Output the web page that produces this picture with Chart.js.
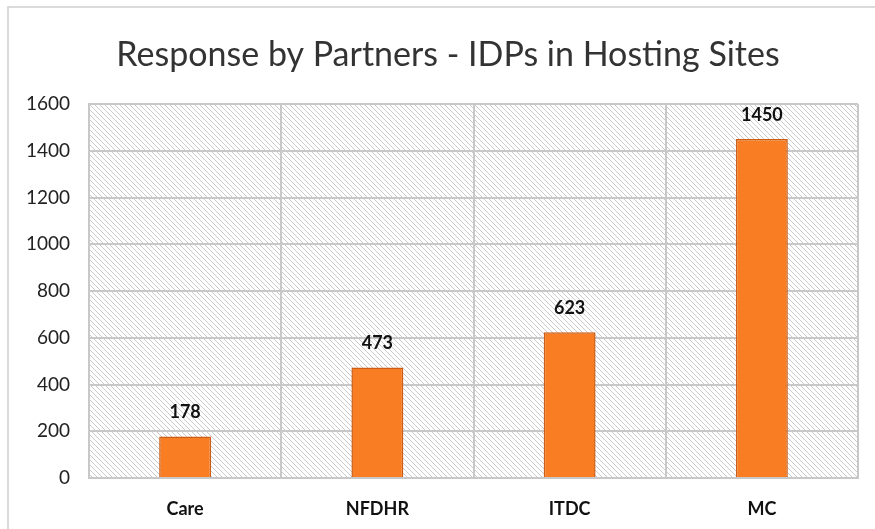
<!DOCTYPE html>
<html>
<head>
<meta charset="utf-8">
<script src="https://cdn.jsdelivr.net/npm/chart.js@4"></script>
<style>
  html, body { margin: 0; padding: 0; background: #fff; }
  #wrap { width: 875px; height: 529px; }
</style>
</head>
<body>
<div id="wrap"><canvas id="myChart" width="875" height="529"></canvas></div>
<script>
const categories = ["Care", "NFDHR", "ITDC", "MC"];
const values = [178, 473, 623, 1450];
const yTicks = [0, 200, 400, 600, 800, 1000, 1200, 1400, 1600];
const chartTitle = "Response by Partners - IDPs in Hosting Sites";

// hatched background for the plot area
function makeHatch() {
  const c = document.createElement("canvas");
  c.width = 5;
  c.height = 5;
  const g = c.getContext("2d");
  g.fillStyle = "#ffffff";
  g.fillRect(0, 0, 5, 5);
  g.strokeStyle = "#cbcbcb";
  g.lineWidth = 1;
  g.beginPath();
  g.moveTo(-1, -1);
  g.lineTo(6, 6);
  g.moveTo(-1, 4);
  g.lineTo(1, 6);
  g.moveTo(4, -1);
  g.lineTo(6, 1);
  g.stroke();
  return c;
}

const backdrop = {
  id: "backdrop",
  beforeDraw(chart) {
    const ctx = chart.ctx;
    const a = chart.chartArea;
    ctx.save();
    // outer frame
    ctx.strokeStyle = "#d0d0d0";
    ctx.lineWidth = 1.5;
    ctx.beginPath();
    ctx.moveTo(8, chart.height);
    ctx.lineTo(8, 7);
    ctx.lineTo(chart.width, 7);
    ctx.stroke();
    // plot area hatch
    ctx.fillStyle = ctx.createPattern(makeHatch(), "repeat");
    ctx.fillRect(a.left, a.top, a.right - a.left, a.bottom - a.top);
    // title, centred on the frame rather than the canvas
    ctx.font = "34px Lato, 'Open Sans', sans-serif";
    ctx.fillStyle = "#333";
    ctx.textAlign = "center";
    ctx.textBaseline = "middle";
    ctx.fillText(chartTitle, 448, 55);
    ctx.restore();
  }
};

const valueLabels = {
  id: "valueLabels",
  afterDatasetsDraw(chart) {
    const ctx = chart.ctx;
    const meta = chart.getDatasetMeta(0);
    ctx.save();
    ctx.font = "bold 18px Lato, 'Open Sans', sans-serif";
    ctx.fillStyle = "#111";
    ctx.textAlign = "center";
    ctx.textBaseline = "middle";
    meta.data.forEach((bar, i) => {
      ctx.fillText(values[i], bar.x, bar.y - 24);
    });
    ctx.restore();
  }
};

let ctx = document.getElementById("myChart");
let myChart = new Chart(ctx, {
  type: "bar",
  data: {
    labels: categories,
    datasets: [
      {
        data: values,
        backgroundColor: "rgb(248, 125, 35)",
        borderColor: "rgb(205, 92, 22)",
        borderWidth: 1.5,
        barPercentage: 1,
        categoryPercentage: 0.27
      }
    ]
  },
  options: {
    responsive: false,
    animation: false,
    layout: { padding: { left: 0, right: 17, top: 104, bottom: 0 } },
    plugins: {
      legend: { display: false },
      tooltip: { enabled: false },
      title: { display: false }
    },
    scales: {
      x: {
        grid: { color: "#c8c8c8", lineWidth: 2, drawTicks: false, offset: true },
        border: { color: "#c8c8c8", width: 2 },
        ticks: {
          color: "#111",
          padding: 20,
          font: { family: "Lato, 'Open Sans', sans-serif", size: 18, weight: "bold" }
        },
        afterFit(scale) { scale.height = 51; }
      },
      y: {
        min: 0,
        max: 1600,
        afterBuildTicks(scale) { scale.ticks = yTicks.map(v => ({ value: v })); },
        grid: { color: "#c8c8c8", lineWidth: 2, drawTicks: false },
        border: { color: "#c8c8c8", width: 2 },
        ticks: {
          color: "#222",
          padding: 19,
          callback: v => String(v),
          font: { family: "Lato, 'Open Sans', sans-serif", size: 19 }
        },
        afterFit(scale) { scale.width = 89; }
      }
    }
  },
  plugins: [backdrop, valueLabels]
});
</script>
</body>
</html>
